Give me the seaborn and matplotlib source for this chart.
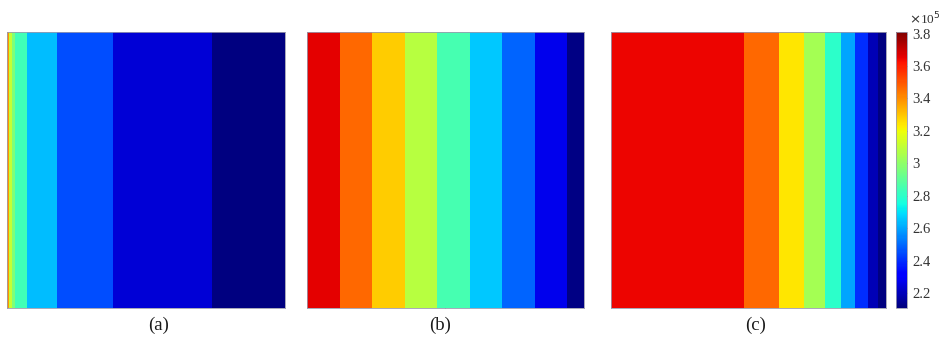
import numpy as np
import matplotlib
matplotlib.use("Agg")
import matplotlib.pyplot as plt
import seaborn as sns
from matplotlib.ticker import FuncFormatter

# band values (Pa) from left to right, and band widths (relative units)
vals_a = [339000, 311000, 296000, 284000, 264000, 245000, 224000, 211000]
widths_a = [2, 3, 3, 12, 30, 56, 99, 73]

vals_b = [366000, 347000, 329000, 308000, 285000, 266000, 249000, 227000, 212000]
widths_b = [33, 32, 33, 32, 33, 32, 33, 32, 17]

vals_c = [365000, 347000, 324000, 304000, 280000, 260000, 240000, 219000, 211000]
widths_c = [134, 35, 25, 21, 16, 14, 13, 10, 8]

panel_labels = ["(a)", "(b)", "(c)"]
cbar_ticks = [2.2e5, 2.4e5, 2.6e5, 2.8e5, 3.0e5, 3.2e5, 3.4e5, 3.6e5, 3.8e5]
vmin, vmax = 2.11e5, 3.81e5

sns.set_theme(style="white")
plt.rcParams["font.family"] = ["Liberation Serif", "DejaVu Serif"]

W, H = 949, 338
fig = plt.figure(figsize=(W / 100, H / 100), dpi=100)


def px_axes(x0, x1, y0, y1):
    return fig.add_axes([x0 / W, 1 - y1 / H, (x1 - x0) / W, (y1 - y0) / H])


ax_a = px_axes(7.3, 285, 32, 308)
ax_b = px_axes(306.7, 584, 32, 308)
ax_c = px_axes(610.5, 885.5, 32, 308)
cax = px_axes(896, 906.5, 32, 307.5)

panels = [(ax_a, vals_a, widths_a), (ax_b, vals_b, widths_b), (ax_c, vals_c, widths_c)]
for i, (ax, vals, widths) in enumerate(panels):
    row = np.repeat(vals, widths)[None, :]
    sns.heatmap(row, ax=ax, cmap="jet", vmin=vmin, vmax=vmax,
                cbar=(i == 2), cbar_ax=cax if i == 2 else None,
                xticklabels=False, yticklabels=False)
    for s in ax.spines.values():
        s.set_visible(True)
        s.set_color("#9a9aae")
        s.set_linewidth(0.6)

# small inward ticks like the original
ax_a.set_yticks([0.2, 0.4, 0.6, 0.8])
ax_a.tick_params(axis="y", direction="in", length=3, width=0.6, color="#555555", left=True, labelleft=False)
ax_b.set_xticks([sum(widths_b) / 2])
ax_b.tick_params(axis="x", direction="in", length=3, width=0.6, color="#555555",
                 bottom=True, top=True, labelbottom=False)

# panel labels
label_x = [159, 440, 756]
for lab, x in zip(panel_labels, label_x):
    fig.text(x / W, 1 - 325 / H, lab, ha="center", va="center", fontsize=13.5, color="#1a1a1a")

# colorbar
cbar = ax_c.collections[0].colorbar
cbar.set_ticks(cbar_ticks)
cbar.ax.yaxis.set_major_formatter(FuncFormatter(lambda v, p: "%g" % round(v / 1e5, 2)))
cbar.ax.tick_params(direction="in", length=2.5, width=0.5, labelsize=10.5, pad=4, colors="#333333")
cbar.outline.set_edgecolor("#9a9aae")
cbar.outline.set_linewidth(0.6)
fig.text(909 / W, 1 - 24 / H, r"$\times$10$^5$", ha="left", va="baseline", fontsize=9.5, color="#333333")

fig.savefig("out.png", dpi=100)
plt.close(fig)
